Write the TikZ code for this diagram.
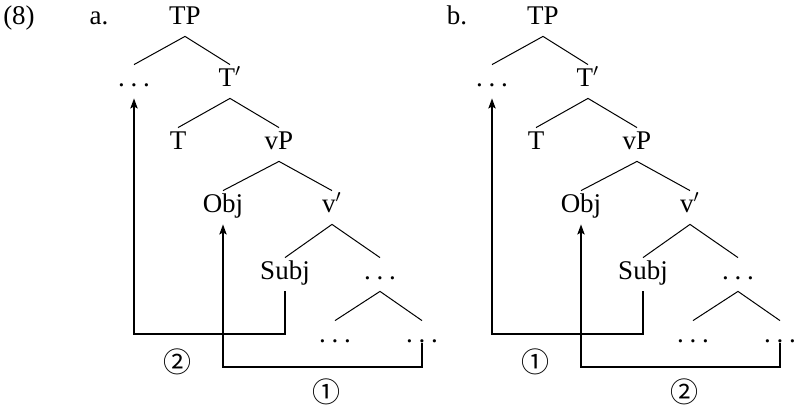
\documentclass[tikz,border=0pt]{standalone}
\usepackage{fontspec}
\setmainfont{Liberation Serif}
\newfontfamily\circfont{Noto Sans CJK JP}
\usetikzlibrary{arrows.meta}

\newcommand\spdots{.\kern0.21em.\kern0.21em.}

\tikzset{
	word/.style={inner sep=3pt, text height=0.8em, text depth=0.25em, anchor=base, font=\fontsize{13.5}{16}\selectfont},
	branch/.style={line width=0.5pt},
	move/.style={line width=1pt, -{Stealth[length=5pt,width=3.6pt,inset=1pt]}},
	circnum/.style={inner sep=0pt, font=\circfont\fontsize{14}{16}\selectfont},
}

% #1 name suffix, #2 panel letter, #3 label of the Subj move, #4 label of the Obj move
\newcommand\movetree[4]{
	\node[word] (let#1) at (99,25) {#2.};
	\node[word] (tp#1) at (185,25) {TP};
	\node[word] (dotsT#1) at (134,87) {\spdots};
	\node[word] (tbar#1) at (230,87) {T$'$};
	\node[word] (t#1) at (178,150) {T};
	\node[word] (vp#1) at (279,150) {vP};
	\node[word] (obj#1) at (223,213) {Obj};
	\node[word] (vbar#1) at (332,213) {v$'$};
	\node[word] (subj#1) at (285,280) {Subj};
	\node[word] (dotsV#1) at (380,280) {\spdots};
	\node[word] (dotsL#1) at (335,343) {\spdots};
	\node[word] (dotsD#1) at (422,343) {\spdots};
	
	\draw[branch] (dotsT#1.north) -- (tp#1.south) -- (tbar#1.north);
	\draw[branch] (t#1.north) -- (tbar#1.south) -- (vp#1.north);
	\draw[branch] (obj#1.north) -- (vp#1.south) -- (vbar#1.north);
	\draw[branch] (subj#1.north) -- (vbar#1.south) -- (dotsV#1.north);
	\draw[branch] (dotsL#1.north) -- (dotsV#1.south) -- (dotsD#1.north);
	
	\coordinate (lowshort#1) at (0,334);
	\coordinate (lowlong#1) at (0,367);
	\draw[move] (subj#1.south) -- (subj#1.south |- lowshort#1) -| (dotsT#1.south);
	\draw[move] (dotsD#1.base) -- (dotsD#1.base |- lowlong#1) -| (obj#1.south);
	
	\node[circnum] (labshort#1) at (177,362) {#3};
	\node[circnum] (lablong#1) at (326,392) {#4};
}

\begin{document}
\begin{tikzpicture}[x=0.5pt, y=-0.5pt]
	\useasboundingbox (0,0) rectangle (794,406);
	
	\node[word] (exnum) at (19,25) {(8)};
	
	\movetree{a}{a}{②}{①}
	
	\begin{scope}[xshift=179pt]
		\movetree{b}{b}{①}{②}
	\end{scope}
\end{tikzpicture}
\end{document}
